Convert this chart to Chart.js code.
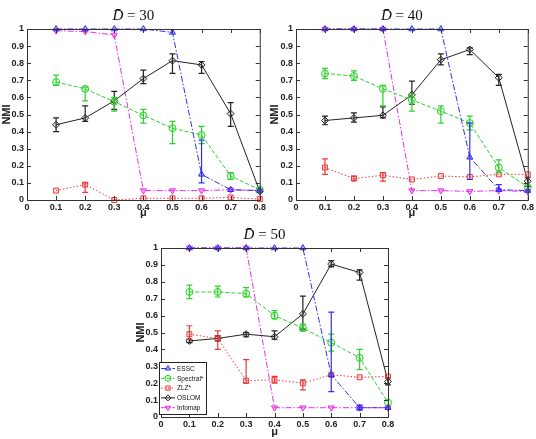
<!DOCTYPE html>
<html>
<head>
<meta charset="utf-8">
<script src="https://cdn.jsdelivr.net/npm/chart.js@4.4.1/dist/chart.umd.min.js"></script>
<style>
  body { margin: 0; background: #fff; }
  canvas { position: absolute; }
</style>
</head>
<body>
<canvas id="c30" width="268" height="220" style="left:0px;top:0px"></canvas>
<canvas id="c40" width="268" height="220" style="left:268px;top:0px"></canvas>
<canvas id="c50" width="268" height="220" style="left:134px;top:219px"></canvas>
<script>
// mixing parameter on the x axis
const muValues = [0.1, 0.2, 0.3, 0.4, 0.5, 0.6, 0.7, 0.8];
const seriesLabels = ["ESSC", "Spectral*", "ZLZ*", "OSLOM", "Infomap"];

// D = 30
const essc30 = [1, 1, 1, 1, 0.98, 0.15, 0.06, 0.055];
const essc30Err = [null, null, null, null, null, [0.10, 0.35], null, null];
const spectral30 = [0.69, 0.65, 0.575, 0.495, 0.42, 0.38, 0.14, 0.06];
const spectral30Err = [[0.67, 0.73], [0.58, 0.66], [0.52, 0.60], [0.45, 0.53], [0.33, 0.46], [0.33, 0.43], [0.12, 0.16], null];
const zlz30 = [0.055, 0.09, 0.0, 0.01, 0.01, 0.01, 0.015, 0.005];
const zlz30Err = [null, [0.045, 0.10], null, null, null, null, null, null];
const oslom30 = [0.44, 0.48, 0.58, 0.71, 0.815, 0.79, 0.505, 0.05];
const oslom30Err = [[0.40, 0.48], [0.46, 0.55], [0.53, 0.635], [0.68, 0.76], [0.74, 0.855], [0.74, 0.81], [0.43, 0.57], null];
const infomap30 = [0.99, 0.985, 0.965, 0.055, 0.055, 0.055, 0.06, 0.055];

// D = 40
const essc40 = [1, 1, 1, 1, 1, 0.25, 0.06, 0.055];
const essc40Err = [null, null, null, null, null, [0.12, 0.45], [0.05, 0.09], null];
const spectral40 = [0.74, 0.725, 0.65, 0.585, 0.52, 0.45, 0.19, 0.075];
const spectral40Err = [[0.71, 0.77], [0.70, 0.755], [0.55, 0.67], [0.52, 0.62], [0.45, 0.55], [0.41, 0.49], [0.16, 0.235], null];
const zlz40 = [0.19, 0.125, 0.145, 0.12, 0.14, 0.135, 0.15, 0.15];
const zlz40Err = [[0.15, 0.24], [0.115, 0.14], [0.11, 0.16], null, null, null, null, null];
const oslom40 = [0.465, 0.48, 0.495, 0.615, 0.82, 0.88, 0.715, 0.11];
const oslom40Err = [[0.44, 0.49], [0.455, 0.51], [0.48, 0.545], [0.56, 0.695], [0.79, 0.855], [0.85, 0.89], [0.67, 0.735], [0.08, 0.13]];
const infomap40 = [1, 1, 1, 0.055, 0.055, 0.05, 0.055, 0.05];

// D = 50
const essc50 = [1, 1, 1, 1, 1, 0.25, 0.055, 0.055];
const essc50Err = [null, null, null, null, null, [0.15, 0.62], [0.04, 0.07], null];
const spectral50 = [0.74, 0.74, 0.73, 0.60, 0.525, 0.44, 0.35, 0.085];
const spectral50Err = [[0.70, 0.78], [0.71, 0.775], [0.71, 0.765], [0.58, 0.63], [0.51, 0.55], [0.39, 0.49], [0.28, 0.40], null];
const zlz50 = [0.49, 0.465, 0.215, 0.22, 0.20, 0.25, 0.235, 0.24];
const zlz50Err = [[0.46, 0.54], [0.40, 0.51], [0.20, 0.34], [0.20, 0.24], [0.16, 0.22], null, null, null];
const oslom50 = [0.45, 0.465, 0.49, 0.475, 0.61, 0.905, 0.855, 0.21];
const oslom50Err = [[0.44, 0.46], [0.45, 0.48], [0.475, 0.50], [0.46, 0.51], [0.52, 0.715], [0.89, 0.925], [0.81, 0.87], [0.19, 0.23]];
const infomap50 = [1, 1, 1, 0.055, 0.055, 0.055, 0.055, 0.055];

const seriesStyles = [
    { color: "#3030f0", fill: "rgba(48,48,240,0.35)", point: "triangle", rot: 0, dash: [6, 2, 1.5, 2] },
    { color: "#2ed02e", fill: "rgba(46,208,46,0.15)", point: "circle", rot: 0, dash: [4, 2] },
    { color: "#ec3a3a", fill: "rgba(236,58,58,0.15)", point: "rect", rot: 0, dash: [1.5, 2] },
    { color: "#222222", fill: "rgba(34,34,34,0.1)", point: "rectRot", rot: 0, dash: [] },
    { color: "#e830e8", fill: "rgba(232,48,232,0.4)", point: "triangle", rot: 180, dash: [6, 2, 1.5, 2] }
];

const FONT = "'Liberation Sans', Arial, sans-serif";

// vertical error bars, placed through the chart's own scales
const errorBarPlugin = {
    id: "errorBars",
    afterDatasetDraw(chart, args) {
        const ds = chart.data.datasets[args.index];
        if (!ds.errorBars) return;
        const ctx = chart.ctx;
        const yScale = chart.scales.y;
        const meta = args.meta;
        ctx.save();
        ctx.strokeStyle = ds.borderColor;
        ctx.lineWidth = 1.2;
        ds.errorBars.forEach((e, j) => {
            if (!e) return;
            const x = meta.data[j].x;
            const lo = yScale.getPixelForValue(e[0]);
            const hi = yScale.getPixelForValue(e[1]);
            ctx.beginPath();
            ctx.moveTo(x, lo); ctx.lineTo(x, hi);
            ctx.moveTo(x - 3, lo); ctx.lineTo(x + 3, lo);
            ctx.moveTo(x - 3, hi); ctx.lineTo(x + 3, hi);
            ctx.stroke();
        });
        ctx.restore();
    }
};

// box round the plot with inward ticks on all four sides, plus the title
const frameTitlePlugin = {
    id: "frameTitle",
    afterDraw(chart, args, opts) {
        const ctx = chart.ctx;
        const a = chart.chartArea;
        const xs = chart.scales.x, ys = chart.scales.y;
        ctx.save();
        ctx.strokeStyle = "#333";
        ctx.lineWidth = 1;
        ctx.strokeRect(a.left + 0.5, a.top + 0.5, a.right - a.left, a.bottom - a.top);
        ctx.beginPath();
        xs.ticks.forEach(t => {
            const px = Math.round(xs.getPixelForValue(t.value)) + 0.5;
            ctx.moveTo(px, a.bottom); ctx.lineTo(px, a.bottom - 4);
            ctx.moveTo(px, a.top); ctx.lineTo(px, a.top + 4);
        });
        ys.ticks.forEach(t => {
            const py = Math.round(ys.getPixelForValue(t.value)) + 0.5;
            ctx.moveTo(a.left, py); ctx.lineTo(a.left + 4, py);
            ctx.moveTo(a.right, py); ctx.lineTo(a.right - 4, py);
        });
        ctx.stroke();

        // title: italic D with bar, then " = nn"
        const cx = (a.left + a.right) / 2 - 10;
        const cy = 16;
        const italic = "italic 15px 'Liberation Serif', 'DejaVu Serif', serif";
        const upright = "15px 'Liberation Serif', 'DejaVu Serif', serif";
        ctx.fillStyle = "#111";
        ctx.textBaseline = "middle";
        ctx.textAlign = "left";
        ctx.font = italic;
        const wD = ctx.measureText("D").width;
        ctx.font = upright;
        const rest = " = " + opts.value;
        const wR = ctx.measureText(rest).width;
        const x0 = cx - (wD + wR) / 2;
        ctx.font = italic;
        ctx.fillText("D\u0304", x0, cy);
        ctx.font = upright;
        ctx.fillText(rest, x0 + wD, cy);
        ctx.restore();
    }
};

// legend box inside the plot, lower left
const insideLegendPlugin = {
    id: "insideLegend",
    afterDraw(chart, args, opts) {
        if (!opts.show) return;
        const ctx = chart.ctx;
        const a = chart.chartArea;
        const bx = a.left - 2, by = a.top + 114, bw = 47, bh = 52;
        ctx.save();
        ctx.fillStyle = "#fff";
        ctx.fillRect(bx, by, bw, bh);
        ctx.strokeStyle = "#222";
        ctx.lineWidth = 1;
        ctx.strokeRect(bx + 0.5, by + 0.5, bw, bh);
        chart.data.datasets.forEach((ds, i) => {
            const y = by + 6.5 + i * 9.8;
            ctx.strokeStyle = ds.borderColor;
            ctx.setLineDash(ds.borderDash);
            ctx.lineWidth = 1;
            ctx.beginPath();
            ctx.moveTo(bx + 2, y); ctx.lineTo(bx + 16, y);
            ctx.stroke();
            ctx.setLineDash([]);
            ctx.fillStyle = ds.pointBackgroundColor;
            Chart.helpers.drawPoint(ctx, {
                pointStyle: ds.pointStyle, rotation: ds.pointRotation,
                radius: 3, borderWidth: 1
            }, bx + 9, y);
            ctx.fillStyle = "#111";
            ctx.font = "6.5px " + FONT;
            ctx.textBaseline = "middle";
            ctx.fillText(ds.label, bx + 18, y + 0.5);
        });
        ctx.restore();
    }
};

function makeDatasets(values, errors) {
    return values.map((vals, i) => {
        const s = seriesStyles[i];
        return {
            label: seriesLabels[i],
            data: muValues.map((m, j) => ({ x: m, y: vals[j] })),
            errorBars: errors[i],
            borderColor: s.color,
            backgroundColor: s.color,
            borderWidth: 1,
            borderDash: s.dash,
            pointStyle: s.point,
            pointRotation: s.rot,
            pointRadius: 3.5,
            pointBorderWidth: 1,
            pointBorderColor: s.color,
            pointBackgroundColor: s.fill,
            tension: 0,
            clip: false
        };
    });
}

function renderPanel(canvasId, value, values, errors, pad, yWidth, xHeight, legend) {
    const ctx = document.getElementById(canvasId).getContext("2d");
    new Chart(ctx, {
        type: "line",
        data: { datasets: makeDatasets(values, errors) },
        options: {
            responsive: false,
            animation: false,
            events: [],
            layout: { padding: pad },
            scales: {
                x: {
                    type: "linear",
                    min: 0, max: 0.8,
                    grid: { display: false, drawTicks: false },
                    border: { display: false },
                    afterFit: s => { s.height = xHeight; },
                    ticks: {
                        stepSize: 0.1, padding: 2, color: "#222",
                        font: { family: FONT, size: 9, weight: "bold" },
                        callback: v => String(+v.toFixed(1))
                    },
                    title: {
                        display: true, text: "\u03bc", color: "#222", padding: 0,
                        font: { family: FONT, size: 11, weight: "bold" }
                    }
                },
                y: {
                    min: 0, max: 1,
                    grid: { display: false, drawTicks: false },
                    border: { display: false },
                    afterFit: s => { s.width = yWidth; },
                    ticks: {
                        stepSize: 0.1, padding: 3, color: "#222",
                        font: { family: FONT, size: 9, weight: "bold" },
                        callback: v => String(+v.toFixed(1))
                    },
                    title: {
                        display: true, text: "NMI", color: "#222", padding: 0,
                        font: { family: FONT, size: 11, weight: "bold" }
                    }
                }
            },
            plugins: {
                legend: { display: false },
                tooltip: { enabled: false },
                frameTitle: { value: value },
                insideLegend: { show: legend }
            }
        },
        plugins: [errorBarPlugin, frameTitlePlugin, insideLegendPlugin]
    });
}

renderPanel("c30", "30",
    [essc30, spectral30, zlz30, oslom30, infomap30],
    [essc30Err, spectral30Err, zlz30Err, oslom30Err, null],
    { top: 29, right: 7, left: 0, bottom: 0 }, 27, 20, false);

renderPanel("c40", "40",
    [essc40, spectral40, zlz40, oslom40, infomap40],
    [essc40Err, spectral40Err, zlz40Err, oslom40Err, null],
    { top: 29, right: 7, left: 0, bottom: 0 }, 28, 20, false);

renderPanel("c50", "50",
    [essc50, spectral50, zlz50, oslom50, infomap50],
    [essc50Err, spectral50Err, zlz50Err, oslom50Err, null],
    { top: 29, right: 14, left: 0, bottom: 0 }, 27, 22, true);
</script>
</body>
</html>
